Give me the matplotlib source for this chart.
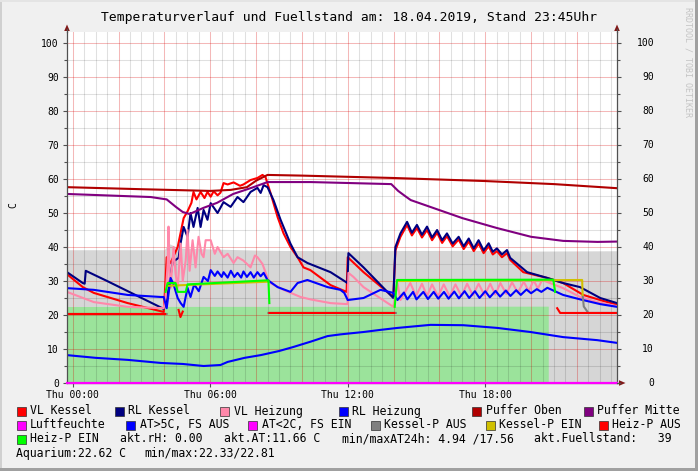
import numpy as np
import matplotlib
matplotlib.use("Agg")
import matplotlib.pyplot as plt
from matplotlib.patches import Rectangle, Polygon
from matplotlib.lines import Line2D
import matplotlib.transforms as mtransforms

nan = np.nan

# ---- data (time in hours of 18.04.2019, values in C / %) ----
vl_kessel_t = [-0.25, 0.44, 0.92, 2.40, 3.97, 4.05, 4.10, 4.27, 4.58, 4.84, 5.01, 5.18, 5.27,
               5.40, 5.58, 5.75, 5.88, 6.02, 6.15, 6.32, 6.45, 6.58, 6.76, 7.02, 7.30, 7.45,
               7.76, 8.06, 8.28, 8.41, 8.63, 8.94, 9.20, 9.50, 9.81, 10.07, 10.37, 11.25,
               11.95, 12.00, 12.69, 13.99, 14.08, 14.30, 14.59, 14.80, 15.02, 15.24, 15.46,
               15.68, 15.90, 16.12, 16.33, 16.58, 16.84, 17.06, 17.28, 17.50, 17.71, 17.93,
               18.15, 18.33, 18.51, 18.73, 18.95, 19.09, 19.66, 20.71, 21.40, 22.28, 23.02, 23.75]
vl_kessel_v = [32.0, 28.2, 26.5, 23.5, 20.9, 30.0, 37.0, 35.3, 40.0, 48.5, 50.5, 53.0, 56.2,
               54.0, 56.2, 54.4, 56.2, 54.8, 56.4, 55.2, 56.0, 58.8, 58.4, 59.0, 58.0, 58.4,
               59.7, 60.3, 61.2, 60.6, 55.9, 48.8, 44.0, 40.0, 37.0, 34.0, 33.2, 28.8,
               26.8, 37.0, 32.6, 25.3, 39.0, 43.0, 46.5, 43.4, 45.6, 42.8, 45.0,
               42.0, 44.2, 41.2, 43.2, 40.2, 42.2, 39.4, 41.6, 38.8, 41.0, 38.2,
               40.2, 37.8, 38.8, 37.0, 38.2, 36.2, 32.6, 30.9, 29.4, 25.9, 24.4, 23.0]

rl_kessel_t = [-0.25, 0.44, 0.52, 0.57, 1.50, 3.97, 4.10, 4.36, 4.62, 4.71, 4.84, 5.01, 5.14,
               5.27, 5.45, 5.58, 5.71, 5.88, 6.02, 6.32, 6.58, 6.89, 7.19, 7.45, 7.76, 8.06,
               8.20, 8.33, 8.50, 8.76, 9.07, 9.50, 9.81, 10.24, 11.25, 11.99, 12.03, 12.69,
               13.99, 14.08, 14.30, 14.59, 14.80, 15.02, 15.24, 15.46, 15.68, 15.90, 16.12,
               16.33, 16.58, 16.84, 17.06, 17.28, 17.50, 17.71, 17.93, 18.15, 18.33, 18.51,
               18.73, 18.95, 19.09, 19.83, 20.71, 21.40, 22.14, 23.02, 23.75]
rl_kessel_v = [32.6, 29.4, 29.2, 33.0, 30.0, 21.8, 24.0, 35.6, 36.8, 41.2, 45.9, 43.0, 50.0,
               45.9, 51.5, 45.9, 50.9, 48.0, 52.9, 50.0, 53.2, 51.8, 54.7, 53.2, 56.2, 57.4,
               55.9, 58.2, 57.6, 53.8, 48.0, 41.0, 37.0, 35.3, 32.6, 29.4, 38.2, 34.0,
               25.0, 40.0, 44.0, 47.4, 44.2, 46.5, 43.6, 46.0, 42.8, 45.0, 42.0,
               44.0, 41.0, 43.0, 40.2, 42.5, 39.6, 42.0, 39.0, 41.1, 38.6, 39.6,
               37.8, 39.1, 36.8, 32.6, 30.9, 29.4, 28.2, 25.0, 23.5]

vl_heizung_t = [-0.25, 0.92, 2.40, 3.97, 4.05, 4.14, 4.18, 4.23, 4.27, 4.40, 4.49, 4.58, 4.71,
                4.80, 4.93, 5.01, 5.10, 5.23, 5.36, 5.49, 5.62, 5.71, 5.80, 6.02, 6.20, 6.32,
                6.58, 6.76, 7.02, 7.19, 7.45, 7.76, 7.95, 8.06, 8.28, 8.50, 8.63, 9.20, 9.94,
                10.37, 11.25, 11.99, 12.03, 12.25, 12.69, 13.99, 14.17, 14.30, 14.73, 14.98,
                15.24, 15.46, 15.68, 15.94, 16.19, 16.45, 16.70, 16.96, 17.21, 17.46, 17.71,
                17.97, 18.22, 18.44, 18.66, 18.92, 19.17, 19.42, 19.68, 19.90, 20.11, 20.30,
                20.48, 21.40, 22.14, 22.89, 23.75]
vl_heizung_v = [26.8, 23.8, 22.4, 22.0, 25.0, 35.0, 46.0, 30.0, 28.0, 40.0, 32.0, 28.0, 41.0,
                30.0, 36.0, 45.0, 33.0, 42.0, 34.0, 43.0, 38.0, 37.0, 42.0, 42.0, 38.0, 40.0,
                37.0, 38.0, 35.3, 37.0, 36.0, 34.0, 37.5, 37.0, 35.0, 31.0, 29.4, 27.4, 25.3,
                24.6, 23.5, 23.2, 32.4, 31.2, 28.2, 22.4, 29.4, 24.4, 29.4, 25.6,
                29.2, 25.6, 29.0, 25.5, 29.0, 25.5, 29.0, 25.6, 29.2, 25.8, 29.2,
                25.8, 29.2, 26.0, 29.4, 26.2, 29.6, 26.6, 29.8, 27.0, 30.2, 27.8,
                30.3, 27.9, 25.3, 23.8, 22.6]

rl_heizung_t = [-0.25, 0.92, 2.40, 3.84, 3.97, 4.10, 4.27, 4.40, 4.58, 4.71, 4.84, 5.01, 5.14,
                5.30, 5.50, 5.71, 5.90, 6.02, 6.20, 6.32, 6.50, 6.58, 6.76, 6.90, 7.05, 7.19,
                7.35, 7.45, 7.60, 7.76, 7.90, 8.06, 8.20, 8.33, 8.50, 8.94, 9.50, 9.81, 10.24,
                11.12, 11.68, 11.85, 12.00, 12.69, 13.43, 13.99, 14.17, 14.45, 14.60, 14.85,
                15.00, 15.30, 15.50, 15.75, 15.95, 16.20, 16.40, 16.65, 16.85, 17.10, 17.30,
                17.55, 17.75, 18.00, 18.20, 18.45, 18.65, 18.90, 19.10, 19.35, 19.55, 19.80,
                20.00, 20.25, 20.45, 20.71, 21.40, 22.14, 23.02, 23.75]
rl_heizung_v = [27.9, 27.4, 25.9, 25.3, 25.3, 22.0, 30.9, 29.0, 25.0, 23.5, 22.4, 28.0, 25.3,
                29.0, 27.0, 31.2, 30.0, 33.2, 31.5, 32.8, 31.2, 32.6, 31.0, 33.0, 31.2, 32.4,
                31.0, 32.8, 31.2, 32.6, 31.0, 32.6, 31.4, 32.4, 30.3, 28.2, 26.8, 29.4, 30.3,
                28.2, 27.4, 26.5, 24.4, 25.0, 27.4, 26.5, 24.4, 26.6, 24.6, 26.8,
                24.6, 26.8, 24.7, 26.8, 24.8, 26.8, 24.8, 26.9, 24.9, 27.0, 25.0,
                27.0, 25.0, 27.0, 25.2, 27.1, 25.4, 27.2, 25.6, 27.3, 25.9, 27.5,
                26.4, 27.6, 26.8, 28.0, 25.9, 24.6, 23.2, 22.4]

puffer_oben_t = [-0.25, 3.0, 6.0, 6.9, 7.6, 8.0, 8.5, 10.0, 14.0, 18.0, 21.0, 23.75]
puffer_oben_v = [57.6, 57.0, 56.5, 56.8, 57.6, 59.5, 61.2, 61.0, 60.3, 59.4, 58.5, 57.3]

puffer_mitte_t = [-0.25, 3.4, 4.1, 4.5, 4.8, 5.1, 5.7, 6.3, 7.0, 7.8, 8.5, 10.4, 13.9, 14.2,
                  14.5, 14.75, 15.6, 17.0, 18.5, 20.0, 21.4, 22.9, 23.75]
puffer_mitte_v = [55.6, 54.7, 54.0, 51.8, 50.3, 49.7, 51.5, 53.0, 55.6, 57.4, 59.1, 59.1, 58.5,
                  56.5, 55.0, 53.8, 51.8, 48.5, 45.6, 43.0, 41.8, 41.5, 41.6]

aussen_t = [-0.25, 1.0, 2.4, 3.84, 4.8, 5.71, 6.45, 6.76, 7.5, 8.2, 9.0, 9.63, 10.4, 11.12,
            11.68, 12.69, 13.4, 14.17, 15.61, 17.04, 18.53, 19.97, 21.40, 22.89, 23.75]
aussen_v = [8.2, 7.4, 6.8, 5.9, 5.6, 5.0, 5.3, 6.2, 7.4, 8.2, 9.4, 10.6, 12.2, 13.8,
            14.3, 15.0, 15.6, 16.2, 17.1, 17.0, 16.2, 15.0, 13.5, 12.6, 11.8]

luftfeuchte_t = [-0.25, 23.75]
luftfeuchte_v = [0.0, 0.0]

kesselp_aus_t = [-0.25, 4.10, nan, 8.54, 14.10, nan, 22.25, 22.30, 22.50, 23.75]
kesselp_aus_v = [20.3, 20.3, nan, 20.6, 20.6, nan, 25.9, 22.5, 20.6, 20.6]
kesselp_ein_t = [4.14, 8.54, nan, 14.15, 22.23, 22.25]
kesselp_ein_v = [28.6, 29.8, nan, 30.0, 30.3, 25.9]

heizp_aus_t = [-0.25, 4.03, nan, 4.62, 4.70, 4.80, nan, 8.58, 14.03, nan, 21.14, 21.27, 23.75]
heizp_aus_v = [20.3, 20.3, nan, 21.5, 19.4, 21.0, nan, 20.6, 20.6, nan, 22.0, 20.6, 20.6]
heizp_ein_t = [4.05, 4.14, 4.49, 4.58, 4.93, 5.01, 8.50, 8.54, 8.58, nan, 14.05, 14.15, 20.97, 21.05]
heizp_ein_v = [26.8, 29.4, 29.4, 26.8, 26.8, 29.0, 30.2, 30.2, 23.5, nan, 22.4, 30.3, 30.4, 26.8]

fuell_t = [-0.25, 4.0, 4.2, 4.6, 5.0, 8.5, 12.0, 16.0, 17.46, 17.48, 17.50, 20.0, 23.75]
fuell_v = [39.2, 39.2, 41.0, 39.8, 39.6, 39.0, 38.9, 39.0, 39.0, 55.0, 39.0, 38.8, 38.9]

aquarium_t = [-0.25, 20.75]
aquarium_v = [22.5, 22.6]

x_ticks = [0, 6, 12, 18]
x_labels = ["Thu 00:00", "Thu 06:00", "Thu 12:00", "Thu 18:00"]
y_ticks = list(range(0, 101, 10))

title = "Temperaturverlauf und Fuellstand am: 18.04.2019, Stand 23:45Uhr"

# ---- figure ----
W, H = 698, 471
MONO = "DejaVu Sans Mono"
plt.rcParams["font.family"] = MONO

fig = plt.figure(figsize=(W / 100, H / 100), dpi=100, facecolor="#f0f0f0")


def fpos(x, y):
    return x / W, 1 - y / H


ax = fig.add_axes([67 / W, 1 - 383 / H, 550 / W, 351 / H])
ax.set_facecolor("white")
ax.set_xlim(-0.25, 23.75)
ax.set_ylim(0, 103.24)

# grid (drawn over the areas, under the lines)
for t in np.arange(0, 23.75, 0.5):
    if t % 2 == 0:
        ax.axvline(t, color=(0.85, 0, 0, 0.28), lw=0.75, zorder=1.5)
    else:
        ax.axvline(t, color=(0, 0, 0, 0.12), lw=0.75, zorder=1.5)
for v in range(5, 105, 5):
    if v % 10 == 0:
        ax.axhline(v, color=(0.85, 0, 0, 0.28), lw=0.75, zorder=1.5)
    else:
        ax.axhline(v, color=(0, 0, 0, 0.12), lw=0.75, zorder=1.5)

# areas
ax.fill_between(fuell_t, 0, fuell_v, color="#d6d6d6", lw=0, zorder=1)
ax.fill_between(aquarium_t, 0, aquarium_v, color="#9be39b", lw=0, zorder=1.1)

LW = 1.5
ax.plot(vl_kessel_t, vl_kessel_v, color="#ff0000", lw=LW, zorder=2)
ax.plot(rl_kessel_t, rl_kessel_v, color="#000080", lw=LW, zorder=2.1)
ax.plot(vl_heizung_t, vl_heizung_v, color="#ff88aa", lw=LW, zorder=2.2)
ax.plot(rl_heizung_t, rl_heizung_v, color="#0000ff", lw=LW, zorder=2.3)
ax.plot(puffer_oben_t, puffer_oben_v, color="#b00000", lw=LW, zorder=2.4)
ax.plot(puffer_mitte_t, puffer_mitte_v, color="#800080", lw=LW, zorder=2.5)
ax.plot(aussen_t, aussen_v, color="#0000ff", lw=LW, zorder=2.6)
ax.plot(kesselp_aus_t, kesselp_aus_v, color="#808080", lw=LW, zorder=2.7)
ax.plot(kesselp_ein_t, kesselp_ein_v, color="#d0c000", lw=LW, zorder=2.8)
ax.plot(heizp_aus_t, heizp_aus_v, color="#ff0000", lw=LW, zorder=2.9)
ax.plot(heizp_ein_t, heizp_ein_v, color="#00ff00", lw=LW, zorder=3.0)
ax.plot(luftfeuchte_t, luftfeuchte_v, color="#ff00ff", lw=1.6, zorder=3.2, clip_on=False)

# axes
ax.spines["top"].set_visible(False)
for side in ["left", "right", "bottom"]:
    ax.spines[side].set_color("#505050")
    ax.spines[side].set_linewidth(0.9)
    ax.spines[side].set_zorder(3.1)

ax.set_xticks(x_ticks)
ax.set_xticklabels(x_labels)
ax.set_yticks(y_ticks)
ax.set_yticklabels([str(v) for v in y_ticks])
ax.set_yticks(range(5, 101, 10), minor=True)
ax.tick_params(axis="x", length=3, width=0.8, color="#505050", pad=2, labelsize=7)
ax.tick_params(axis="y", which="major", left=True, right=True, length=3, width=0.8,
               color="#505050", pad=2.9, labelsize=7)
ax.tick_params(axis="y", which="minor", left=True, right=True, length=2, width=0.8,
               color="#505050")

trans = mtransforms.blended_transform_factory(ax.transAxes, ax.transData)
for v in y_ticks:
    ax.text((654 - 67) / 550, v, str(v), transform=trans, ha="right", va="center",
            fontsize=7, family=MONO)

ax.set_ylabel("C", fontsize=7, labelpad=0)
ax.yaxis.set_label_coords((18.5 - 67) / 550, (383 - 205) / 351)

# arrows
arrow_col = "#801818"
for x in (67, 617):
    fig.add_artist(Line2D([x / W, x / W], [1 - 32 / H, 1 - 29 / H], color="#505050", lw=0.9))
    fig.patches.append(Polygon([fpos(x, 24.5), fpos(x - 2.8, 31), fpos(x + 2.8, 31)],
                               closed=True, facecolor=arrow_col, edgecolor="none",
                               transform=fig.transFigure, figure=fig))
fig.add_artist(Line2D([617 / W, 620 / W], [1 - 383 / H, 1 - 383 / H], color="#505050", lw=0.9))
fig.patches.append(Polygon([fpos(625.5, 383), fpos(619, 380.2), fpos(619, 385.8)],
                           closed=True, facecolor=arrow_col, edgecolor="none",
                           transform=fig.transFigure, figure=fig))

# title and watermark
fig.text(349 / W, 1 - 17 / H, title, ha="center", va="center", fontsize=9.4, family=MONO)
fig.text(688 / W, 1 - 7 / H, "RRDTOOL / TOBI OETIKER", rotation=270, ha="center", va="top",
         fontsize=6, color="#c4c4c4", family=MONO)

# legend
legend_rows = [
    [("VL Kessel", "#ff0000", 16.5), ("RL Kessel", "#000080", 114.5),
     ("VL Heizung", "#ff88aa", 220.5), ("RL Heizung", "#0000ff", 338.5),
     ("Puffer Oben", "#b00000", 472), ("Puffer Mitte", "#800080", 583.5)],
    [("Luftfeuchte", "#ff00ff", 16.5), ("AT>5C, FS AUS", "#0000ff", 126),
     ("AT<2C, FS EIN", "#ff00ff", 248), ("Kessel-P AUS", "#808080", 371),
     ("Kessel-P EIN", "#d0c000", 485.5), ("Heiz-P AUS", "#ff0000", 599)],
    [("Heiz-P EIN", "#00ff00", 16.5)],
]
row_y = [411, 425, 439, 453]
for r, entries in enumerate(legend_rows):
    y = row_y[r]
    for label, col, x in entries:
        fig.patches.append(Rectangle(fpos(x, y + 4.5), 9 / W, 9 / H, facecolor=col,
                                     edgecolor="#303030", lw=0.5,
                                     transform=fig.transFigure, figure=fig))
        fig.text((x + 13.5) / W, 1 - y / H, label, ha="left", va="center",
                 fontsize=8.3, family=MONO)

info = [("akt.rH: 0.00", 120, 439), ("akt.AT:11.66 C", 224, 439),
        ("min/maxAT24h: 4.94 /17.56", 342, 439), ("akt.Fuellstand:   39", 534, 439),
        ("Aquarium:22.62 C", 16.5, 453), ("min/max:22.33/22.81", 144.5, 453)]
for label, x, y in info:
    fig.text(x / W, 1 - y / H, label, ha="left", va="center", fontsize=8.3, family=MONO)

# 3d frame
fig.patches.append(Rectangle((0, 0), 2 / W, 1, facecolor="#d0d0d0", edgecolor="none",
                             transform=fig.transFigure, figure=fig))
fig.patches.append(Rectangle((0, 1 - 2 / H), 1, 2 / H, facecolor="#e4e4e4", edgecolor="none",
                             transform=fig.transFigure, figure=fig))
fig.patches.append(Rectangle((1 - 3 / W, 0), 3 / W, 1, facecolor="#a0a0a0", edgecolor="none",
                             transform=fig.transFigure, figure=fig))
fig.patches.append(Rectangle((0, 0), 1, 3 / H, facecolor="#a0a0a0", edgecolor="none",
                             transform=fig.transFigure, figure=fig))

fig.savefig("out.png", dpi=100, facecolor=fig.get_facecolor())
